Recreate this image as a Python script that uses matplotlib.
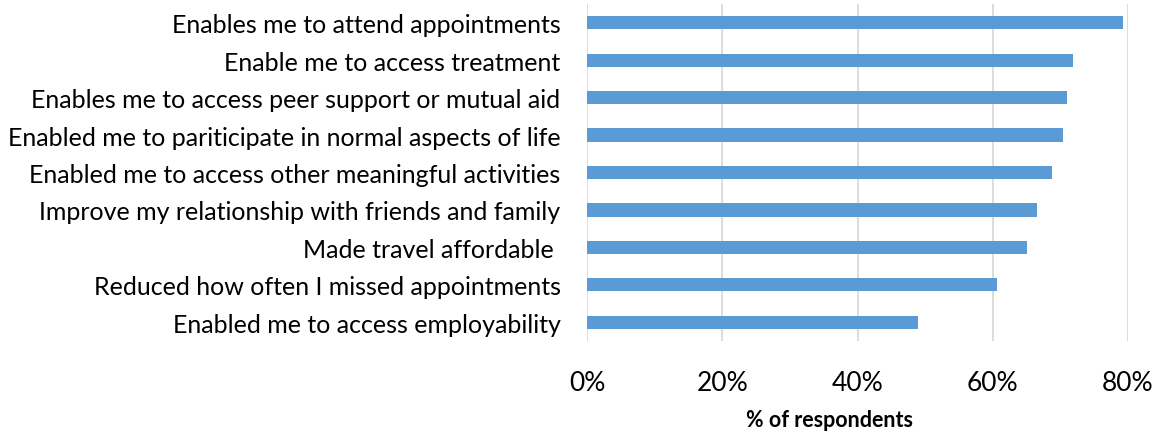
import matplotlib.pyplot as plt
import numpy as np

plt.rcParams['font.family'] = ['Lato', 'DejaVu Sans']

labels = ['Enables me to attend appointments',
          'Enable me to access treatment',
          'Enables me to access peer support or mutual aid',
          'Enabled me to pariticipate in normal aspects of life',
          'Enabled me to access other meaningful activities',
          'Improve my relationship with friends and family',
          'Made travel affordable ',
          'Reduced how often I missed appointments',
          'Enabled me to access employability']
values = [0.793, 0.719, 0.710, 0.704, 0.688, 0.665, 0.650, 0.606, 0.489]
ticks = [0, 0.2, 0.4, 0.6, 0.8]
tick_labels = ['0%', '20%', '40%', '60%', '80%']

fig = plt.figure(figsize=(11.68, 4.35), dpi=100)
ax = fig.add_axes([587 / 1168, 1 - 342 / 435, 541 / 1168, 337 / 435])

y = np.arange(len(labels))
ax.barh(y, values, height=0.355, color='#5B9BD5', zorder=3)
ax.set_yticks(y, labels, fontsize=18)
ax.set_ylim(len(labels) - 0.5, -0.5)
ax.set_xlim(0, 0.8)
ax.set_xticks(ticks, tick_labels, fontsize=19)
ax.grid(axis='x', color='#D9D9D9', linewidth=1.3, zorder=0)
for s in ax.spines.values():
    s.set_visible(False)
ax.tick_params(axis='y', length=0, pad=19)
ax.tick_params(axis='x', length=0, pad=21)

fig.text(830 / 1168, 1 - 421 / 435, '% of respondents', fontsize=15.5,
         fontweight='bold', ha='center', va='center')

plt.savefig('out.png', dpi=100)
